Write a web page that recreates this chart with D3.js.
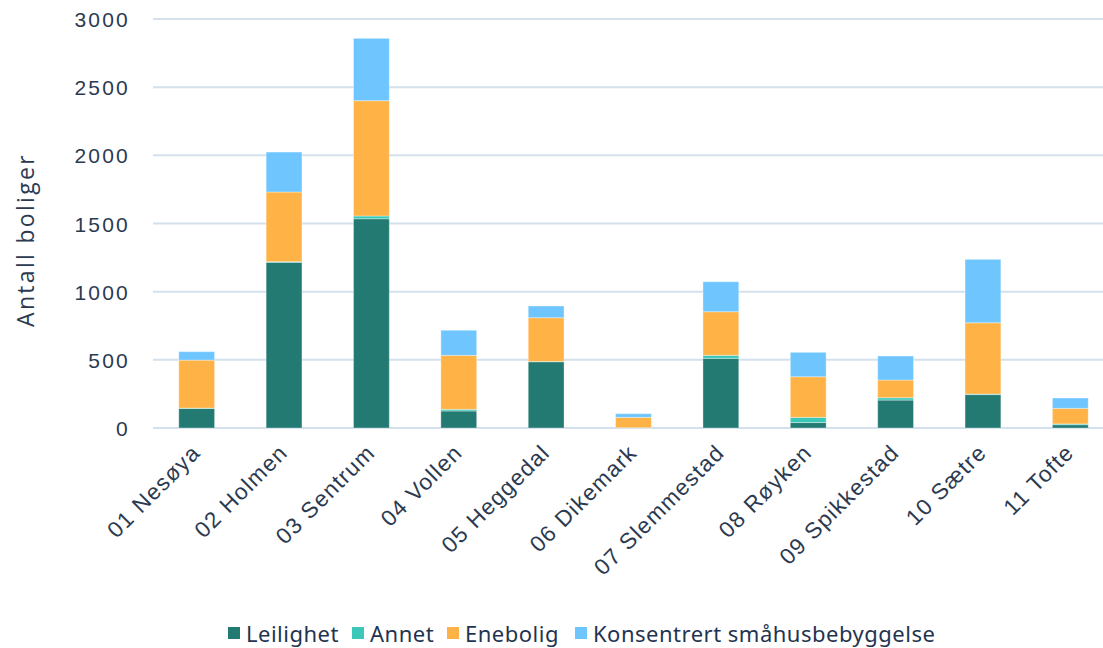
<!DOCTYPE html>
<html>
<head>
<meta charset="utf-8">
<script src="https://cdn.jsdelivr.net/npm/d3@7"></script>
<style>
  body { margin: 0; background: #fff; }
  svg { display: block; }
</style>
</head>
<body>
<div id="chart"></div>
<script>
// data
var categories = ["01 Nesøya", "02 Holmen", "03 Sentrum", "04 Vollen", "05 Heggedal", "06 Dikemark",
                  "07 Slemmestad", "08 Røyken", "09 Spikkestad", "10 Sætre", "11 Tofte"];
var seriesNames = ["Leilighet", "Annet", "Enebolig", "Konsentrert småhusbebyggelse"];
var leilighet   = [143, 1215, 1535, 125, 486, 2, 511, 40, 205, 245, 24];
var annet       = [3, 5, 20, 12, 2, 0, 22, 38, 17, 4, 6];
var enebolig    = [352, 511, 846, 396, 321, 76, 320, 298, 130, 523, 114];
var konsentrert = [62, 293, 457, 184, 86, 27, 220, 179, 176, 465, 76];
var yTicks = [0, 500, 1000, 1500, 2000, 2500, 3000];
var colors = ["#237a72", "#3cc8b8", "#ffb347", "#6fc6ff"];

var W = 1103, H = 648;
var x0 = 153, x1 = 1114, yBase = 428, yTop = 19;
var textColor = "#2b3a50";

var svg = d3.select("#chart").append("svg")
    .attr("width", W).attr("height", H);

var rows = categories.map(function(c, i){
    return {cat: c, "Leilighet": leilighet[i], "Annet": annet[i], "Enebolig": enebolig[i],
            "Konsentrert småhusbebyggelse": konsentrert[i]};
});
var stack = d3.stack().keys(seriesNames)(rows);

var x = d3.scaleBand().domain(categories).range([x0, x1]).paddingInner(0.59).paddingOuter(0.295);
var y = d3.scaleLinear().domain([0, 3000]).range([yBase, yTop]);

// grid
svg.append("g").selectAll("line")
    .data(yTicks)
    .enter().append("line")
    .attr("x1", x0).attr("x2", W)
    .attr("y1", function(d){ return y(d); })
    .attr("y2", function(d){ return y(d); })
    .attr("stroke", "#d4e0ec")
    .attr("stroke-width", 2);

// y axis labels
var yAxis = svg.append("g")
    .attr("transform", "translate(" + (x0 - 23) + ",0)")
    .call(d3.axisLeft(y).tickValues(yTicks).tickFormat(d3.format("d")).tickSize(0).tickPadding(0));
yAxis.select(".domain").remove();
yAxis.selectAll("text")
    .attr("dy", "0.36em")
    .attr("font-family", "Liberation Sans, Arial, sans-serif")
    .attr("font-size", 21)
    .attr("letter-spacing", "2.2px")
    .attr("fill", textColor);

svg.append("text")
    .attr("transform", "translate(34,240) rotate(-90)")
    .attr("text-anchor", "middle")
    .attr("font-family", "Open Sans, sans-serif")
    .attr("font-size", 23)
    .attr("letter-spacing", "2.3px")
    .attr("fill", textColor)
    .text("Antall boliger");

// bars
svg.append("g").selectAll("g")
    .data(stack)
    .enter().append("g")
    .attr("fill", function(d, i){ return colors[i]; })
    .selectAll("rect")
    .data(function(d){ return d; })
    .enter().append("rect")
    .attr("x", function(d){ return x(d.data.cat); })
    .attr("width", x.bandwidth())
    .attr("y", function(d){ return y(d[1]); })
    .attr("height", function(d){ return y(d[0]) - y(d[1]); })
    .attr("stroke", "#ffffff")
    .attr("stroke-opacity", 0.35)
    .attr("stroke-width", 1);

// x labels
svg.append("g").selectAll("text")
    .data(categories)
    .enter().append("text")
    .attr("transform", function(d){
        return "translate(" + (x(d) + x.bandwidth() / 2 + 5) + "," + (yBase + 26) + ") rotate(-45)";
    })
    .attr("text-anchor", "end")
    .attr("font-family", "Liberation Sans, Arial, sans-serif")
    .attr("font-size", 22.5)
    .attr("letter-spacing", "1.3px")
    .attr("fill", textColor)
    .text(function(d){ return d; });

// legend
var legendX = [228, 352, 447, 575];
var legend = svg.append("g");
seriesNames.forEach(function(name, i){
    legend.append("rect")
        .attr("x", legendX[i]).attr("y", 627)
        .attr("width", 12).attr("height", 12)
        .attr("fill", colors[i]);
    legend.append("text")
        .attr("x", legendX[i] + 18).attr("y", 642)
        .attr("font-family", "Noto Sans, sans-serif")
        .attr("font-size", 22)
        .attr("letter-spacing", "0.5px")
        .attr("fill", "#1f3450")
        .text(name);
});
</script>
</body>
</html>
